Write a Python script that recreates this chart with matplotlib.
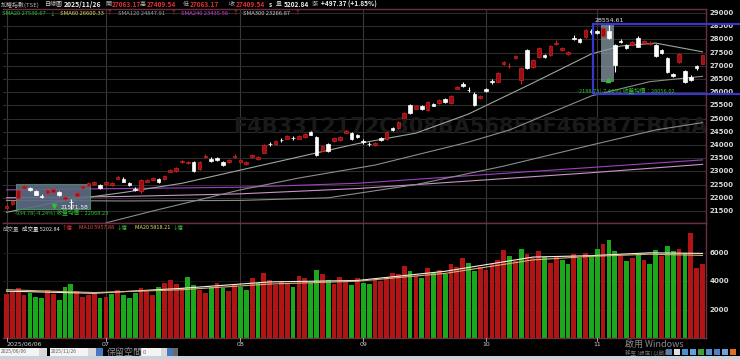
import numpy as np
import matplotlib
matplotlib.use("Agg")
import matplotlib.pyplot as plt
from matplotlib.patches import Rectangle

plt.rcParams['font.family'] = ['Noto Sans CJK TC', 'DejaVu Sans']

# ---- data ----
opens = [21620, 21760, 21990, 22380, 22360, 22240, 22050, 22180, 22210, 22230,
         21940, 21850, 22080, 22360, 22460, 22520, 22480, 22520, 22470, 22730,
         22730, 22550, 22330, 22240, 22610, 22660, 22700, 22720, 22990, 23020,
         23340, 23300, 23360, 23090, 23550, 23480, 23490, 23370, 23340, 23530,
         23340, 23290, 23540, 23480, 23710, 24050, 24030, 24200, 24240, 24280,
         24240, 24300, 24490, 24310, 23790, 24030, 24160, 24200, 24470, 24460,
         24380, 24140, 24050, 24010, 24260, 24220, 24630, 24640, 25040, 25510,
         25380, 25460, 25330, 25550, 25590, 25730, 25590, 26140, 26320, 26100,
         25950, 25780, 26110, 26410, 26400, 27050, 26980, 27300, 26470, 27600,
         26950, 27330, 27420, 27410, 27840, 27590, 27430, 28050, 28000, 28100,
         28300, 28330, 28130, 28330, 27790, 27930, 27770, 27800, 28040, 27850,
         27840, 27780, 27580, 27280, 26700, 27140, 26800, 26570, 26990, 27063.17]
highs = [21760, 21900, 22330, 22506.36, 22420, 22290, 22140, 22320, 22370, 22270,
         22060, 21950, 22240, 22480, 22600, 22620, 22520, 22620, 22610, 22830,
         22780, 22590, 22420, 22700, 22730, 22780, 22740, 22880, 23090, 23180,
         23440, 23400, 23400, 23400, 23640, 23530, 23530, 23410, 23480, 23640,
         23480, 23410, 23660, 23580, 24040, 24130, 24190, 24280, 24380, 24350,
         24380, 24440, 24540, 24350, 24000, 24080, 24320, 24340, 24580, 24500,
         24420, 24220, 24120, 24110, 24300, 24540, 24670, 24920, 25260, 25560,
         25520, 25500, 25680, 25590, 25730, 25770, 25890, 26240, 26370, 26200,
         26000, 25880, 26150, 26490, 26780, 27170, 27100, 27420, 26950, 27640,
         27260, 27700, 27460, 27790, 27960, 27710, 27550, 28150, 28040, 28400,
         28400, 28370, 28460, 28554.61, 27830, 28010, 27810, 27940, 28120, 27970,
         27950, 27820, 27620, 27320, 26740, 27470, 26850, 26650, 27030, 27409.54]
lows = [21580, 21720, 21960, 22340, 22250, 22090, 21980, 22150, 22180, 22080,
        21900, 21571.58, 22050, 22330, 22430, 22490, 22330, 22490, 22440, 22700,
        22580, 22440, 22260, 22200, 22580, 22630, 22570, 22690, 22960, 22990,
        23310, 23270, 22960, 23050, 23490, 23350, 23400, 23220, 23310, 23500,
        23310, 23260, 23510, 23450, 23680, 23980, 24000, 24120, 24210, 24200,
        24210, 24270, 24360, 23600, 23760, 23740, 24130, 24170, 24440, 24190,
        24270, 24050, 23960, 23980, 24170, 24190, 24540, 24610, 25010, 25180,
        25350, 25330, 25300, 25460, 25560, 25600, 25560, 26110, 26190, 26010,
        25480, 25750, 26020, 26320, 26370, 27020, 26900, 27270, 26300, 26870,
        26920, 27300, 27310, 27380, 27780, 27560, 27400, 27980, 27870, 28070,
        28220, 28220, 28100, 28000, 26750, 27850, 27650, 27770, 27700, 27820,
        27790, 27350, 27460, 26730, 26570, 27100, 26365.88, 26440, 26860, 27063.17]
closes = [21700, 21860, 22290, 22460, 22280, 22120, 22030, 22280, 22330, 22110,
          22020, 21830, 22200, 22440, 22560, 22580, 22360, 22580, 22570, 22790,
          22610, 22470, 22310, 22670, 22690, 22740, 22600, 22840, 23050, 23140,
          23400, 23360, 23000, 23360, 23570, 23380, 23430, 23250, 23440, 23590,
          23440, 23370, 23620, 23540, 24000, 24030, 24150, 24180, 24340, 24260,
          24340, 24400, 24390, 23630, 23960, 23770, 24280, 24300, 24530, 24220,
          24300, 24120, 24030, 24070, 24200, 24500, 24570, 24880, 25220, 25210,
          25480, 25360, 25640, 25490, 25690, 25630, 25850, 26200, 26220, 26080,
          25520, 25840, 26050, 26390, 26740, 27130, 27000, 27380, 26900, 26910,
          27220, 27660, 27340, 27750, 27860, 27670, 27510, 28030, 27900, 28360,
          28280, 28250, 28420, 28050, 27040, 27910, 27680, 27900, 27730, 27930,
          27860, 27380, 27490, 26760, 26600, 27430, 26400, 26480, 26912.17, 27409.54]
volumes = [3100, 3300, 3500, 3000, 3200, 2900, 2800, 3400, 3100, 2700,
           3600, 3800, 3300, 2900, 3000, 3100, 2800, 2900, 3100, 3400,
           3000, 2800, 3200, 3500, 3300, 3000, 3600, 3900, 4100, 3800,
           3500, 4300, 3700, 3400, 3200, 3600, 3900, 3500, 3300, 3700,
           3600, 3400, 4200, 3900, 4600, 4100, 3700, 4000, 3800, 3600,
           4400, 4200, 3900, 4800, 4500, 4100, 3800, 4300, 4000, 3700,
           4200, 3900, 3800, 4100, 4000, 4300, 4600, 4500, 5100, 4700,
           4400, 4200, 4900, 4600, 4800, 4500, 5200, 5000, 5600, 5300,
           4700, 5000, 4800, 5200, 5500, 6200, 5800, 5400, 6300, 5900,
           5600, 6100, 5700, 5300, 5800, 5500, 5200, 5900, 5600, 6000,
           5700, 6300, 6600, 6900, 6100, 5800, 5400, 5600, 5900, 5500,
           5200, 6200, 5800, 6500, 6100, 6300, 6000, 7400, 4950, 5202.84]

# moving averages, read at a few points along each line
sma20_idx = [0, 10, 20, 30, 40, 50, 60, 70, 79, 90, 100, 105, 111, 119]
sma20_val = [21450, 21900, 22200, 22550, 23050, 23550, 24050, 24450, 25175, 26350, 27450, 27750, 27860, 27530.67]
sma60_idx = [17, 25, 40, 50, 63, 79, 86, 100, 110, 119]
sma60_val = [21050, 21500, 22300, 22750, 23240, 24110, 24570, 25860, 26400, 26600.33]
sma120_idx = [0, 20, 40, 55, 70, 85, 100, 111, 119]
sma120_val = [21900, 21880, 21900, 22000, 22500, 23200, 24000, 24570, 24847.91]
sma240_idx = [0, 20, 40, 60, 80, 100, 119]
sma240_val = [22300, 22350, 22400, 22550, 22850, 23150, 23435.56]
sma300_idx = [0, 20, 40, 60, 80, 100, 119]
sma300_val = [22000, 22050, 22150, 22350, 22650, 22950, 23266.87]
vma10_idx = [0, 15, 30, 45, 60, 75, 90, 100, 110, 119]
vma10_val = [3300, 3150, 3500, 3950, 4050, 4700, 5700, 5800, 6000, 5957.88]
vma20_idx = [0, 15, 30, 45, 60, 75, 90, 100, 110, 119]
vma20_val = [3400, 3200, 3400, 3800, 4000, 4550, 5500, 5750, 5900, 5818.21]

month_idx = [0, 17, 40, 61, 82, 101]
month_lab = ['2025/06/06', '07', '08', '09', '10', '11']
price_ticks = [21500, 22000, 22500, 23000, 23500, 24000, 24500, 25000, 25500,
               26000, 26500, 27000, 27500, 28000, 28500, 29000]
vol_ticks = [2000, 4000, 6000]

# ---- figure ----
W, H = 740, 359
fig = plt.figure(figsize=(W / 100, H / 100), dpi=100, facecolor='black')


def fx(px):
    return px / W


def fy(py):
    return 1 - py / H


ax = fig.add_axes([fx(3), fy(223), fx(703), (223 - 9) / H], facecolor='black')
axv = fig.add_axes([fx(3), fy(338), fx(703), (338 - 223) / H], facecolor='black')

n = len(closes)
x = np.arange(n)
o = np.array(opens)
c = np.array(closes)
hi = np.array(highs)
lo = np.array(lows)
up = c >= o

grid = '#2c2c2c'
red_face, red_edge = '#9c1015', '#d42020'

for a in (ax, axv):
    a.set_xlim(-0.6, 119.6)
    for m in month_idx:
        a.axvline(m, color='#383838', lw=0.8, zorder=0)
    a.set_xticks([])
    a.set_yticks([])
    for s in a.spines.values():
        s.set_color('#6a3040')
        s.set_linewidth(1.0)
    a.spines['left'].set_visible(False)

ax.set_ylim(21045, 29152)
for t in price_ticks:
    ax.axhline(t, color=grid, lw=0.8, zorder=0)
    ax.text(1.005, t, str(t), transform=ax.get_yaxis_transform(), color='#d8d8d8',
            fontsize=5, fontweight='bold', va='center', ha='left', family='DejaVu Sans')

# watermark
ax.text(0.328, 0.45, 'F4B3312172C308BA56856F46BB7EB08A', transform=ax.transAxes,
        color='#1a1a1a', fontsize=15, fontweight='bold', va='center', ha='left',
        family='DejaVu Sans', zorder=0.5)

# moving averages
ax.plot(sma300_idx, sma300_val, color='#c896c8', lw=0.8, zorder=1)
ax.plot(sma240_idx, sma240_val, color='#a040c0', lw=0.8, zorder=1)
ax.plot(sma120_idx, sma120_val, color='#8c8c8c', lw=0.8, zorder=1)
ax.plot(sma60_idx, sma60_val, color='#8c8c8c', lw=0.8, zorder=1)
ax.plot(sma20_idx, sma20_val, color='#9aa89a', lw=0.8, zorder=1)

# annotation boxes
ax.add_patch(Rectangle((1.7, 21571.58), 12.5, 22506.36 - 21571.58, facecolor='#5e6c84',
                       edgecolor='#4f8f6f', lw=0.8, alpha=0.9, zorder=1.5))
ax.add_patch(Rectangle((101.7, 26398), 2.2, 28584 - 26398, facecolor='#8a9aa6',
                       edgecolor='none', alpha=0.75, zorder=1.5))
ax.add_patch(Rectangle((100.3, 25930), 26, 28584 - 25930, facecolor='none',
                       edgecolor='#3838c8', lw=1.6, zorder=4, clip_on=False))

# candles
wick_col = np.where(up, red_edge, '#ffffff')
ax.vlines(x, lo, hi, colors=wick_col, lw=0.8, zorder=2)
body = np.maximum(np.abs(c - o), 12)
ax.bar(x, body, bottom=np.minimum(o, c), width=0.62,
       color=np.where(up, red_face, '#ffffff'),
       edgecolor=np.where(up, red_edge, '#ffffff'), lw=0.5, zorder=3)

ax.text(103, 28640, '28554.61', color='#e0e0e0', fontsize=4.5, ha='center', va='bottom',
        family='DejaVu Sans')
ax.plot([102.8], [26470], marker='^', color='#30c030', ms=3, zorder=4)
ax.text(97.6, 26060, '-2188.73(-7.66%) 收盤均價：28056.02', color='#30c030', fontsize=4.1,
        ha='left', va='center', zorder=5)
ax.text(1.2, 21440, '-934.78(-4.24%) 收盤均價：22068.23', color='#30c030', fontsize=4.1,
        ha='left', va='center', zorder=5)
ax.text(9.2, 21640, '21571.58', color='#f0f0f0', fontsize=4.2, ha='left', va='center',
        family='DejaVu Sans', zorder=5)
ax.plot([8.2], [21680], marker='v', color='#30c030', ms=3, zorder=4)

# volume panel
axv.set_ylim(0, 8100)
for t in vol_ticks:
    axv.axhline(t, color='#1e1e1e', lw=0.6, zorder=0)
    axv.text(1.005, t, str(t), transform=axv.get_yaxis_transform(), color='#d8d8d8',
             fontsize=5, fontweight='bold', va='center', ha='left', family='DejaVu Sans')
prev = np.concatenate([[c[0] - 1], c[:-1]])
vcol = np.where(c >= prev, '#b01414', '#1ca81c')
axv.bar(x, volumes, width=0.82, color=vcol, zorder=2)
axv.plot(vma10_idx, vma10_val, color='#f0f0f0', lw=0.8, zorder=3)
axv.plot(vma20_idx, vma20_val, color='#d8b070', lw=0.8, zorder=3)

# month labels
for m, lab in zip(month_idx, month_lab):
    xm = 3 + (m + 0.6) / 120.2 * 703
    fig.text(fx(xm), fy(344), lab, color='#d0d0d0', fontsize=4.5, ha='left' if m == 0 else 'center',
             va='center', family='DejaVu Sans')
    fig.add_artist(plt.Line2D([fx(xm)] * 2, [fy(338), fy(340.5)], color='#bbbbbb', lw=0.6))


# header row 1
def htext(px, py, s, col, size=5.0, bold=False):
    fig.text(fx(px), fy(py), s, color=col, fontsize=size, ha='left', va='center',
             fontweight='bold' if bold else 'normal')


htext(1, 4.5, '加權指數(TSE)', '#b8b8b8', 4.3)
htext(45, 4.5, '日線圖', '#d0d0d0', 4.3)
htext(64, 4.5, '2025/11/26', '#f0f0f0', 4.9, True)
htext(105, 4.5, '開', '#b8b8b8', 4.3)
htext(112, 4.5, '27063.17', '#e03030', 4.7, True)
htext(140, 4.5, '高', '#b8b8b8', 4.3)
htext(147, 4.5, '27409.54', '#e03030', 4.7, True)
htext(183, 4.5, '低', '#b8b8b8', 4.3)
htext(190, 4.5, '27063.17', '#e03030', 4.7, True)
htext(229, 4.5, '收', '#b8b8b8', 4.3)
htext(236, 4.5, '27409.54', '#e03030', 4.7, True)
htext(269, 4.5, 's', '#f0f0f0', 4.5, True)
htext(276, 4.5, '量', '#b8b8b8', 4.3)
htext(284, 4.5, '5202.84', '#f0f0f0', 4.7, True)
htext(312, 4.5, '漲', '#b8b8b8', 4.3)
htext(321, 4.5, '+497.37 (+1.85%)', '#f0f0f0', 4.7, True)

# header row 2 (moving averages)
htext(2, 13.5, 'SMA20 27530.67', '#38c038', 4.2)
htext(49, 13.5, '↓', '#38c038', 4.2)
htext(60, 13.5, 'SMA60 26600.33', '#e0e060', 4.2)
htext(106, 13.5, '↑', '#e03030', 4.2)
htext(118, 13.5, 'SMA120 24847.91', '#9a9a9a', 4.2)
htext(170, 13.5, '↑', '#e03030', 4.2)
htext(181, 13.5, 'SMA240 23435.56', '#d040d0', 4.2)
htext(232, 13.5, '↑', '#e03030', 4.2)
htext(243, 13.5, 'SMA300 23266.87', '#c8c8c8', 4.2)
htext(294, 13.5, '↑', '#e03030', 4.2)

# volume header
htext(3, 228, '成交量', '#b0b0b0', 4.0)
htext(22, 228, '成交量 5202.84', '#e8e8e8', 4.0)
htext(62, 228, '↑億', '#e03030', 3.9)
htext(79, 228, 'MA10 5957.88', '#e04848', 4.0)
htext(117, 228, '↓億', '#38c038', 3.9)
htext(135, 228, 'MA20 5818.21', '#e0e060', 4.0)
htext(173, 228, '↓億', '#38c038', 3.9)


# bottom toolbar
def fbox(px, py, w, h, fc, ec='none'):
    fig.add_artist(Rectangle((fx(px), fy(py + h)), w / W, h / H, transform=fig.transFigure,
                             facecolor=fc, edgecolor=ec, lw=0.5))


fbox(0, 356, 740, 3, '#c8d4dc')
fbox(0, 348, 39, 8, '#f4f4f4')
fbox(39, 348, 8, 8, '#d8d8d8')
fbox(50, 348, 38, 8, '#f4f4f4')
fbox(88, 348, 8, 8, '#d8d8d8')
fbox(96, 348, 7, 8, '#4a78c0')
fbox(141, 348, 20, 8, '#f4f4f4')
fbox(161, 348, 6, 8, '#d8d8d8')
fbox(167, 348, 6, 8, '#4a78c0')
fbox(173, 348, 5, 8, '#6a6a6a')
htext(1, 352, '2025/06/06', '#606060', 3.6)
htext(42, 352, '~', '#d0d0d0', 4)
htext(51, 352, '2025/11/26', '#606060', 3.6)
htext(107, 352, '保留空間', '#909090', 6.5)
htext(143, 352, '0', '#606060', 4)
htext(625, 344, '啟用 Windows', '#8a8a8a', 6.5)
htext(625, 352.5, '移至 [設定] 以啟用', '#7a7a7a', 4)
icon_cols = ['#5080c0', '#e0e0e0', '#4a90d0', '#60a0e0', '#40a040', '#5090d0', '#5080c0', '#70a0e0', '#e07020']
for k, col in enumerate(icon_cols):
    fbox(666 + k * 8, 349, 6, 6, col)

fig.savefig('out.png', dpi=100, facecolor='black')
